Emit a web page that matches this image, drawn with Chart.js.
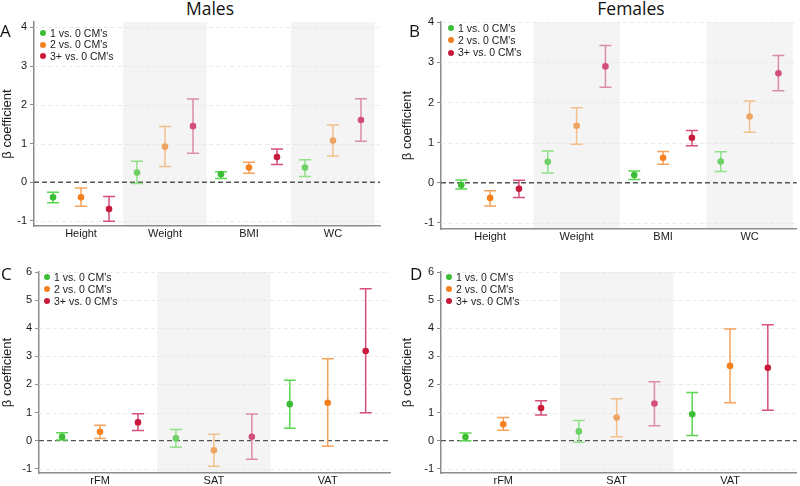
<!DOCTYPE html>
<html>
<head>
<meta charset="utf-8">
<script src="https://cdn.jsdelivr.net/npm/chart.js@4.4.0/dist/chart.umd.min.js"></script>
<style>
    body { margin: 0; background: #fff; width: 800px; height: 486px; position: relative; overflow: hidden; font-family: "Liberation Sans", Arial, sans-serif; }
    .panel { position: absolute; width: 400px; height: 243px; }
    .panel canvas { position: absolute; left: 0; top: 0; }
    .title { position: absolute; top: -4px; font-family: "Open Sans", sans-serif; font-size: 17.5px; color: #111; transform: translateX(-50%); white-space: nowrap; }
    .letter { position: absolute; font-family: "Open Sans", sans-serif; font-size: 17px; color: #111; line-height: 1; }
    .legend { position: absolute; font-size: 10.5px; color: #222; }
    .legend div { position: absolute; white-space: nowrap; line-height: 12px; }
    .legend .dot { position: absolute; width: 6px; height: 6px; border-radius: 50%; }
</style>
</head>
<body>
<div class="title" style="left:210px">Males</div>
<div class="title" style="left:631px">Females</div>

<div class="panel" style="left:0;top:0"><canvas id="chartA" width="400" height="243"></canvas></div>
<div class="panel" style="left:400px;top:0"><canvas id="chartB" width="400" height="243"></canvas></div>
<div class="panel" style="left:0;top:243px"><canvas id="chartC" width="400" height="243"></canvas></div>
<div class="panel" style="left:400px;top:243px"><canvas id="chartD" width="400" height="243"></canvas></div>

<div class="letter" style="left:0px;top:22px">A</div>
<div class="letter" style="left:409px;top:22px">B</div>
<div class="letter" style="left:1px;top:265px">C</div>
<div class="letter" style="left:410px;top:265px">D</div>

<div id="legends"></div>

<script>
// Datos
const groupLabels = ["1 vs. 0 CM's", "2 vs. 0 CM's", "3+ vs. 0 CM's"];
const anthroCats = ['Height', 'Weight', 'BMI', 'WC'];
const fatCats = ['rFM', 'SAT', 'VAT'];
const anthroTicks = [-1, 0, 1, 2, 3, 4];
const fatTicks = [-1, 0, 1, 2, 3, 4, 5, 6];

// A - Males, anthropometry (one row per group)
const malesAnthroEst = [[-0.39, 0.25, 0.21, 0.38], [-0.39, 0.92, 0.38, 1.08], [-0.69, 1.45, 0.65, 1.61]];
const malesAnthroLo  = [[-0.53, -0.03, 0.10, 0.15], [-0.62, 0.41, 0.23, 0.68], [-1.01, 0.75, 0.46, 1.06]];
const malesAnthroHi  = [[-0.26, 0.54, 0.27, 0.58], [-0.15, 1.44, 0.52, 1.48], [-0.37, 2.15, 0.86, 2.16]];

// B - Females, anthropometry
const femalesAnthroEst = [[-0.06, 0.52, 0.19, 0.53], [-0.38, 1.42, 0.62, 1.65], [-0.15, 2.90, 1.12, 2.73]];
const femalesAnthroLo  = [[-0.16, 0.24, 0.08, 0.28], [-0.58, 0.96, 0.46, 1.26], [-0.37, 2.38, 0.92, 2.29]];
const femalesAnthroHi  = [[0.07, 0.79, 0.29, 0.77], [-0.20, 1.87, 0.78, 2.04], [0.06, 3.42, 1.30, 3.17]];

// C - Males, fat depots
const malesFatEst = [[0.14, 0.08, 1.30], [0.32, -0.34, 1.35], [0.65, 0.14, 3.19]];
const malesFatLo  = [[0.02, -0.23, 0.44], [0.08, -0.91, -0.20], [0.36, -0.66, 0.99]];
const malesFatHi  = [[0.28, 0.40, 2.15], [0.55, 0.23, 2.91], [0.96, 0.95, 5.40]];

// D - Females, fat depots
const femalesFatEst = [[0.13, 0.33, 0.94], [0.58, 0.82, 2.66], [1.16, 1.32, 2.59]];
const femalesFatLo  = [[0.00, -0.06, 0.18], [0.37, 0.14, 1.35], [0.91, 0.53, 1.08]];
const femalesFatHi  = [[0.27, 0.72, 1.71], [0.82, 1.49, 3.97], [1.42, 2.10, 4.12]];

// Estilos
const pointColors = ['#3dbd35', '#f5801f', '#c81a3c'];
const pointColorsLight = ['#6dd165', '#eea463', '#d24f7d'];
const errColors = ['#5ad650', '#f5a35a', '#d5507a'];
const errColorsLight = ['#90e088', '#f2c08c', '#dc8ca8'];
const groupOffsets = [-1 / 3, 0, 1 / 3];
const bandColor = '#f4f4f4';
const axisColor = '#8c8c8c';
const FONT = '"Liberation Sans", Arial, sans-serif';

const isBand = (i) => i % 2 === 1;

function makePanel(cfg) {
    const { id, cats, est, lo, hi, ticks, yMin, yMax, xMin, xMax, area } = cfg;

    const datasets = est.map((row, g) => ({
        label: groupLabels[g],
        data: row.map((v, i) => ({ x: i + groupOffsets[g], y: v })),
        pointRadius: 3.3,
        pointHoverRadius: 3.3,
        borderWidth: 0,
        pointBorderWidth: 0,
        backgroundColor: (ctx) => isBand(ctx.dataIndex) ? pointColorsLight[g] : pointColors[g]
    }));

    const panelPlugin = {
        id: 'panelDecor',
        beforeDraw(chart) {
            const { ctx, chartArea, scales: { x } } = chart;
            ctx.save();
            ctx.fillStyle = bandColor;
            cats.forEach((c, i) => {
                if (!isBand(i)) return;
                const l = Math.max(x.getPixelForValue(i - 0.5), chartArea.left);
                const r = Math.min(x.getPixelForValue(i + 0.5), chartArea.right);
                ctx.fillRect(l, chartArea.top, r - l, chartArea.bottom - chartArea.top);
            });
            ctx.restore();
        },
        beforeDatasetsDraw(chart) {
            const { ctx, chartArea, scales: { x, y } } = chart;
            ctx.save();
            // faint grid
            ctx.strokeStyle = '#e9e9e9';
            ctx.lineWidth = 1;
            ctx.setLineDash([4, 3]);
            ticks.forEach(t => {
                if (t === 0) return;
                const py = Math.round(y.getPixelForValue(t)) + 0.5;
                ctx.beginPath();
                ctx.moveTo(chartArea.left, py);
                ctx.lineTo(chartArea.right, py);
                ctx.stroke();
            });
            // zero reference line
            ctx.strokeStyle = '#555';
            ctx.lineWidth = 1.4;
            ctx.setLineDash([5, 3]);
            const zy = y.getPixelForValue(0);
            ctx.beginPath();
            ctx.moveTo(chartArea.left, zy);
            ctx.lineTo(chartArea.right, zy);
            ctx.stroke();
            ctx.setLineDash([]);
            // error bars
            ctx.lineWidth = 1.5;
            est.forEach((row, g) => {
                row.forEach((v, i) => {
                    const px = x.getPixelForValue(i + groupOffsets[g]);
                    const pLo = y.getPixelForValue(lo[g][i]);
                    const pHi = y.getPixelForValue(hi[g][i]);
                    ctx.strokeStyle = isBand(i) ? errColorsLight[g] : errColors[g];
                    ctx.beginPath();
                    ctx.moveTo(px, pLo); ctx.lineTo(px, pHi);
                    ctx.moveTo(px - 6, pLo); ctx.lineTo(px + 6, pLo);
                    ctx.moveTo(px - 6, pHi); ctx.lineTo(px + 6, pHi);
                    ctx.stroke();
                });
            });
            ctx.restore();
        }
    };

    return new Chart(document.getElementById(id), {
        type: 'scatter',
        data: { datasets },
        options: {
            responsive: false,
            animation: false,
            events: [],
            layout: { padding: { left: 0, right: 400 - area.right, top: area.top, bottom: 0 } },
            plugins: { legend: { display: false }, tooltip: { enabled: false } },
            scales: {
                x: {
                    type: 'linear',
                    min: xMin,
                    max: xMax,
                    afterBuildTicks: (s) => { s.ticks = cats.map((c, i) => ({ value: i })); },
                    afterFit: (s) => { s.height = 243 - area.bottom; },
                    grid: { display: false, drawTicks: false },
                    border: { display: true, color: axisColor, width: 1.5 },
                    ticks: {
                        padding: 1,
                        color: '#1a1a1a',
                        font: { family: FONT, size: 11 },
                        callback: (v) => cats[v],
                        maxRotation: 0,
                        autoSkip: false
                    }
                },
                y: {
                    min: yMin,
                    max: yMax,
                    afterBuildTicks: (s) => { s.ticks = ticks.map(v => ({ value: v })); },
                    afterFit: (s) => { s.width = area.left; },
                    grid: { display: true, drawOnChartArea: false, drawTicks: true, tickLength: 4, color: axisColor },
                    border: { display: true, color: axisColor, width: 1.5 },
                    title: {
                        display: true,
                        text: 'β coefficient',
                        color: '#1a1a1a',
                        padding: 0,
                        font: { family: FONT, size: 13 }
                    },
                    ticks: {
                        padding: 3,
                        color: '#1a1a1a',
                        font: { family: FONT, size: 11 },
                        callback: (v) => v
                    }
                }
            }
        },
        plugins: [panelPlugin]
    });
}

function makeLegend(left, top, step) {
    const box = document.createElement('div');
    box.className = 'legend';
    box.style.left = left + 'px';
    box.style.top = top + 'px';
    groupLabels.forEach((lab, g) => {
        const dot = document.createElement('span');
        dot.className = 'dot';
        dot.style.background = pointColors[g];
        dot.style.left = '-3px';
        dot.style.top = (g * step - 3) + 'px';
        const txt = document.createElement('div');
        txt.textContent = lab;
        txt.style.left = '7px';
        txt.style.top = (g * step - 6.5) + 'px';
        box.appendChild(dot);
        box.appendChild(txt);
    });
    document.getElementById('legends').appendChild(box);
}

makePanel({ id: 'chartA', cats: anthroCats, est: malesAnthroEst, lo: malesAnthroLo, hi: malesAnthroHi,
    ticks: anthroTicks, yMin: -1.13, yMax: 4.14, xMin: -0.56, xMax: 3.56,
    area: { left: 34, right: 380, top: 22, bottom: 226 } });
makePanel({ id: 'chartB', cats: anthroCats, est: femalesAnthroEst, lo: femalesAnthroLo, hi: femalesAnthroHi,
    ticks: anthroTicks, yMin: -1.155, yMax: 4.007, xMin: -0.568, xMax: 3.545,
    area: { left: 41, right: 398, top: 22, bottom: 229 } });
makePanel({ id: 'chartC', cats: fatCats, est: malesFatEst, lo: malesFatLo, hi: malesFatHi,
    ticks: fatTicks, yMin: -1.15, yMax: 6, xMin: -0.536, xMax: 2.547,
    area: { left: 39, right: 390, top: 29, bottom: 230 } });
makePanel({ id: 'chartD', cats: fatCats, est: femalesFatEst, lo: femalesFatLo, hi: femalesFatHi,
    ticks: fatTicks, yMin: -1.15, yMax: 6, xMin: -0.549, xMax: 2.588,
    area: { left: 41, right: 397, top: 29, bottom: 230 } });

makeLegend(43, 33, 11.7);
makeLegend(451, 28, 12.3);
makeLegend(47, 277, 12);
makeLegend(449, 277, 12);
</script>
</body>
</html>
